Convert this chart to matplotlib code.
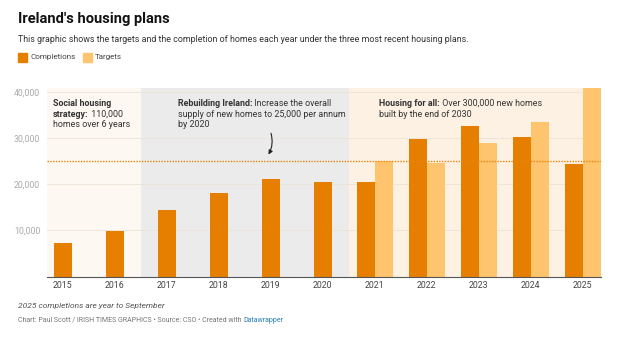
import matplotlib
matplotlib.use("Agg")
import matplotlib.pyplot as plt
from matplotlib.patches import Rectangle
import numpy as np

plt.rcParams['font.family'] = ['Roboto', 'DejaVu Sans']

years = ['2015', '2016', '2017', '2018', '2019', '2020', '2021', '2022', '2023', '2024', '2025']
completions = [7200, 9800, 14400, 18000, 21100, 20500, 20500, 29800, 32600, 30300, 24300]
target_years = ['2021', '2022', '2023', '2024', '2025']
targets = [25000, 24600, 29000, 33450, 41000]
yticks = [10000, 20000, 30000, 40000]
ytick_labels = ['10,000', '20,000', '30,000', '40,000']
goal_line = 25000

C_COMP = '#e67e00'
C_TARG = '#fec46e'
C_TEXT = '#333333'

W, H = 632, 343
fig = plt.figure(figsize=(W/100, H/100), dpi=100)
fig.patch.set_facecolor('white')

def fx(px):
    return px / W

def fy(py):
    return 1 - py / H

ax = fig.add_axes([fx(47), fy(276.7), fx(601) - fx(47), fy(88.3) - fy(276.7)])
ax.set_facecolor('white')

x = np.arange(len(years))
ax.set_xlim(-0.30, len(years) - 1 + 0.35)
ax.set_ylim(0, 40750)

# plan periods
ax.axvspan(-0.30, 1.5, color='#fdf8f1', zorder=0, lw=0)
ax.axvspan(1.5, 5.5, color='#ebebeb', zorder=0, lw=0)
ax.axvspan(5.5, len(years) - 1 + 0.35, color='#fdf1e3', zorder=0, lw=0)

for t in yticks:
    ax.axhline(t, color='#ece3d6', lw=0.6, zorder=1)

bw = 0.345
tidx = [years.index(y) for y in target_years]
comp_x = np.array(x, dtype=float)
for i in tidx:
    comp_x[i] = x[i] - bw / 2
ax.bar(comp_x, completions, width=bw, color=C_COMP, zorder=2, lw=0)
ax.bar(np.array(tidx) + bw / 2, targets, width=bw, color=C_TARG, zorder=2, lw=0)

ax.axhline(goal_line, color='#e8850c', lw=1.0, ls=(0, (1, 1)), zorder=3)

for s in ['top', 'right', 'left']:
    ax.spines[s].set_visible(False)
ax.spines['bottom'].set_color('#555555')
ax.spines['bottom'].set_linewidth(0.8)
ax.spines['bottom'].set_zorder(4)

ax.set_xticks(x)
ax.set_xticklabels(years, fontsize=6.3, color='#444444')
ax.set_yticks(yticks)
ax.set_yticklabels(ytick_labels, fontsize=6.3, color='#aaaaaa')
ax.tick_params(axis='x', length=0, pad=3)
ax.tick_params(axis='y', length=0, pad=5)

fig.canvas.draw()
renderer = fig.canvas.get_renderer()


def rich(ax, xd, yd, lines, size=6.4, lh=10.5):
    # yd: baseline of first line (data); lh: line height in pixels
    for i, segs in enumerate(lines):
        off = 0.0
        for txt, w in segs:
            t = ax.annotate(txt, xy=(xd, yd), xycoords='data',
                            xytext=(off, -i * lh), textcoords='offset pixels',
                            fontsize=size, fontweight=w, va='baseline', ha='left',
                            color=C_TEXT, zorder=5)
            off += t.get_window_extent(renderer).width

rich(ax, -0.18, 36900, [[('Social housing', 'bold')],
                        [('strategy:', 'bold'), (' 110,000', 'normal')],
                        [('homes over 6 years', 'normal')]])
rich(ax, 2.21, 36900, [[('Rebuilding Ireland:', 'bold'), (' Increase the overall', 'normal')],
                       [('supply of new homes to 25,000 per annum', 'normal')],
                       [('by 2020', 'normal')]])
rich(ax, 6.09, 36900, [[('Housing for all:', 'bold'), (' Over 300,000 new homes', 'normal')],
                       [('built by the end of 2030', 'normal')]])

ax.annotate('', xy=(3.93, 25900), xytext=(3.99, 31600),
            arrowprops=dict(arrowstyle='-|>', color='#222222', lw=0.8,
                            mutation_scale=6, connectionstyle='arc3,rad=-0.25'),
            zorder=5)

# header
fig.text(fx(18), fy(19), "Ireland's housing plans", fontsize=10.5, fontweight='bold',
         color='#111111', va='center', ha='left')
fig.text(fx(18), fy(40), 'This graphic shows the targets and the completion of homes each year under the three most recent housing plans.',
         fontsize=6.4, color='#333333', va='center', ha='left')

# legend
fig.patches.append(Rectangle((fx(18), fy(62)), fx(9), fy(53) - fy(62), transform=fig.transFigure,
                             color=C_COMP, figure=fig))
fig.text(fx(30), fy(57.5), 'Completions', fontsize=5.8, color='#444444', va='center', ha='left')
fig.patches.append(Rectangle((fx(83), fy(62)), fx(9), fy(53) - fy(62), transform=fig.transFigure,
                             color=C_TARG, figure=fig))
fig.text(fx(95), fy(57.5), 'Targets', fontsize=5.8, color='#444444', va='center', ha='left')

# footer
fig.text(fx(18), fy(306), '2025 completions are year to September', fontsize=6.0,
         style='italic', color='#555555', va='center', ha='left')
t1 = fig.text(fx(18), fy(320), 'Chart: Paul Scott / IRISH TIMES GRAPHICS • Source: CSO • Created with ',
              fontsize=5.0, color='#777777', va='center', ha='left')
bb = t1.get_window_extent(renderer)
fig.text(bb.x1 / W, fy(320), 'Datawrapper', fontsize=5.0, color='#2a7fb8', va='center', ha='left')

fig.savefig('out.png', dpi=100)
